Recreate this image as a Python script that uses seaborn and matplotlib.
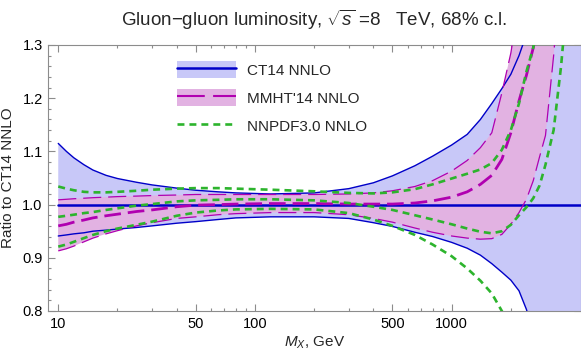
import matplotlib
matplotlib.use("Agg")
import matplotlib.pyplot as plt
import seaborn as sns
import pandas as pd
from matplotlib.patches import Patch
from matplotlib.lines import Line2D
from matplotlib.legend_handler import HandlerTuple
from matplotlib.ticker import FixedLocator, FixedFormatter, MultipleLocator, FormatStrFormatter

# ---------------- data ----------------
mass = [10, 11, 12, 13.5, 15, 17.5, 20, 25, 30, 40, 50, 65, 80, 120, 200, 300, 400, 500,
        650, 800, 1000, 1200, 1400, 1600, 1800, 2000, 2200, 2400, 2600, 2800, 3000, 3300,
        3600, 4000, 4600]

ct14_up = [1.115, 1.100, 1.088, 1.075, 1.065, 1.055, 1.049, 1.042, 1.037, 1.031, 1.027, 1.024,
           1.022, 1.020, 1.022, 1.030, 1.041, 1.054, 1.073, 1.091, 1.112, 1.132, 1.160, 1.190,
           1.218, 1.245, 1.280, 1.320, 1.370, 1.430, 1.500, 1.620, 1.750, 1.900, 2.200]
ct14_lo = [0.941, 0.943, 0.945, 0.947, 0.950, 0.952, 0.954, 0.957, 0.960, 0.965, 0.968, 0.972,
           0.975, 0.977, 0.977, 0.974, 0.966, 0.959, 0.948, 0.940, 0.929, 0.918, 0.905, 0.889,
           0.873, 0.858, 0.838, 0.803, 0.760, 0.700, 0.600, 0.500, 0.400, 0.300, 0.200]
ct14_c = [1.0] * len(mass)

mmht_c = [0.960, 0.963, 0.967, 0.971, 0.975, 0.979, 0.982, 0.987, 0.990, 0.996, 0.999, 1.000,
          1.001, 1.002, 1.002, 1.001, 1.001, 1.001, 1.003, 1.007, 1.014, 1.024, 1.038, 1.055,
          1.085, 1.135, 1.195, 1.243, 1.295, 1.350, 1.450, 1.600, 1.750, 1.900, 2.100]
mmht_up = [1.009, 1.010, 1.011, 1.012, 1.013, 1.014, 1.015, 1.016, 1.017, 1.018, 1.019, 1.019,
           1.019, 1.019, 1.019, 1.020, 1.022, 1.026, 1.034, 1.045, 1.063, 1.083, 1.107, 1.135,
           1.210, 1.285, 1.380, 1.500, 1.620, 1.750, 2.000, 2.300, 2.600, 3.000, 3.500]
mmht_lo = [0.913, 0.917, 0.922, 0.930, 0.937, 0.945, 0.951, 0.960, 0.966, 0.974, 0.977, 0.981,
           0.983, 0.985, 0.985, 0.981, 0.974, 0.967, 0.956, 0.948, 0.941, 0.937, 0.935, 0.936,
           0.944, 0.963, 0.985, 1.010, 1.045, 1.090, 1.130, 1.280, 1.450, 1.600, 1.800]

nnpdf_up = [1.034, 1.030, 1.027, 1.024, 1.023, 1.023, 1.024, 1.026, 1.028, 1.030, 1.031, 1.031,
            1.030, 1.028, 1.025, 1.022, 1.021, 1.023, 1.029, 1.038, 1.049, 1.058, 1.066, 1.078,
            1.103, 1.140, 1.190, 1.250, 1.295, 1.370, 1.450, 1.600, 1.750, 1.900, 2.100]
nnpdf_mid = [0.977, 0.979, 0.981, 0.984, 0.986, 0.990, 0.993, 0.998, 1.001, 1.006, 1.008, 1.009,
             1.010, 1.010, 1.008, 1.003, 0.996, 0.990, 0.980, 0.972, 0.963, 0.955, 0.949, 0.946,
             0.950, 0.962, 0.980, 0.995, 1.012, 1.036, 1.075, 1.140, 1.260, 1.450, 1.650]
nnpdf_lo = [0.921, 0.925, 0.930, 0.937, 0.943, 0.950, 0.955, 0.962, 0.968, 0.979, 0.985, 0.989,
            0.991, 0.992, 0.991, 0.984, 0.972, 0.960, 0.943, 0.925, 0.903, 0.880, 0.857, 0.833,
            0.800, 0.770, 0.730, 0.690, 0.640, 0.590, 0.540, 0.450, 0.350, 0.250, 0.150]

x_major = [10, 50, 100, 500, 1000]
x_major_labels = ["10", "50", "100", "500", "1000"]
x_minor = [20, 30, 40, 60, 70, 80, 90, 200, 300, 400, 600, 700, 800, 900, 2000, 3000, 4000]

labels = ["CT14 NNLO", "MMHT'14 NNLO", "NNPDF3.0 NNLO"]
title = "Gluon\u2212gluon luminosity, $\\sqrt{s}$ =8   TeV, 68% c.l."

# ---------------- style ----------------
sns.set_style("ticks")
plt.rcParams["font.family"] = ["Liberation Sans", "DejaVu Sans"]
plt.rcParams["mathtext.fontset"] = "custom"
plt.rcParams["mathtext.rm"] = "Liberation Sans"
plt.rcParams["mathtext.it"] = "Liberation Sans:italic"
plt.rcParams["lines.scale_dashes"] = False

BLUE = "#0000C8"
BLUE_FILL = "#C8C8F8"
PINK_FILL = "#E2B2E2"
MAG = "#B000B0"
GREEN = "#2DB42D"
FRAME = "#8C8C8C"

fig = plt.figure(figsize=(5.81, 3.55), dpi=100)
ax = fig.add_axes([48.3 / 581, 1 - 311 / 355, (580.5 - 48.3) / 581, 266 / 355])

df = pd.DataFrame(dict(mass=mass, ct14_up=ct14_up, ct14_lo=ct14_lo, ct14_c=ct14_c,
                       mmht_c=mmht_c, mmht_up=mmht_up, mmht_lo=mmht_lo,
                       nnpdf_up=nnpdf_up, nnpdf_mid=nnpdf_mid, nnpdf_lo=nnpdf_lo))

ax.fill_between(df["mass"], df["ct14_lo"], df["ct14_up"], color=BLUE_FILL, lw=0, zorder=1)
ax.fill_between(df["mass"], df["mmht_lo"], df["mmht_up"], color=PINK_FILL, lw=0, zorder=2)

def draw(col, color, lw, dashes=None, z=3):
    sns.lineplot(data=df, x="mass", y=col, ax=ax, color=color, lw=lw,
                 estimator=None, sort=False, zorder=z)
    ln = ax.lines[-1]
    if dashes is not None:
        ln.set_dashes(dashes)
    ln.set_dash_capstyle("butt")
    ln.set_solid_joinstyle("round")

draw("ct14_up", BLUE, 1.0)
draw("ct14_lo", BLUE, 1.0)
draw("ct14_c", BLUE, 1.8)
draw("mmht_up", MAG, 0.9, (13, 5), z=4)
draw("mmht_lo", MAG, 0.9, (13, 5), z=4)
draw("mmht_c", MAG, 2.0, (12, 5), z=4)
draw("nnpdf_up", GREEN, 1.9, (5, 3.6), z=5)
draw("nnpdf_mid", GREEN, 1.9, (5, 3.6), z=5)
draw("nnpdf_lo", GREEN, 1.9, (5, 3.6), z=5)

ax.set_xscale("log")
ax.set_xlim(8.9, 4520)
ax.set_ylim(0.8, 1.3)

ax.xaxis.set_major_locator(FixedLocator(x_major))
ax.xaxis.set_major_formatter(FixedFormatter(x_major_labels))
ax.xaxis.set_minor_locator(FixedLocator(x_minor))
ax.xaxis.set_minor_formatter(FixedFormatter([""] * len(x_minor)))
ax.yaxis.set_major_locator(MultipleLocator(0.1))
ax.yaxis.set_minor_locator(MultipleLocator(0.02))
ax.yaxis.set_major_formatter(FormatStrFormatter("%.1f"))

ax.tick_params(which="both", direction="in", top=True, right=True, color=FRAME,
               labelsize=10.5, labelcolor="black", width=0.8)
ax.tick_params(which="major", length=5, pad=4)
ax.tick_params(which="minor", length=2.5)
for s in ax.spines.values():
    s.set_color(FRAME)
    s.set_linewidth(0.8)

ax.set_xlabel("$M_X$, GeV", fontsize=11, labelpad=3)
ax.set_ylabel("Ratio to CT14 NNLO", fontsize=11, labelpad=5)
ax.set_title(title, fontsize=13.5, pad=13.5)

# legend
h1 = (Patch(facecolor=BLUE_FILL, edgecolor="none"), Line2D([], [], color=BLUE, lw=1.8))
h2 = (Patch(facecolor=PINK_FILL, edgecolor="none"),
      Line2D([], [], color=MAG, lw=1.5, dashes=(20, 6)))
h3 = Line2D([], [], color=GREEN, lw=1.9, dashes=(5, 3.6))
ax.legend([h1, h2, h3], labels, handler_map={tuple: HandlerTuple(ndivide=1, pad=0)},
          loc="upper left", bbox_to_anchor=(0.241, 0.941), frameon=False,
          borderpad=0, borderaxespad=0, fontsize=11, handlelength=3.9,
          handleheight=1.4, handletextpad=0.7, labelspacing=0.68)

fig.savefig("out.png", dpi=100)
